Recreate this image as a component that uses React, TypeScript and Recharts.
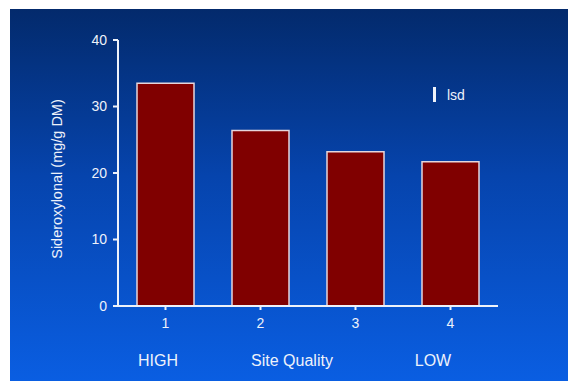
import React from 'react';
import { BarChart, Bar, XAxis, YAxis, Customized } from 'recharts';

const sites = ['1', '2', '3', '4'];
const sideroxylonal = [33.5, 26.4, 23.2, 21.7];
const yTicks = [0, 10, 20, 30, 40];

const data = sites.map((site, i) => ({ site, value: sideroxylonal[i] }));

const textColor = '#eef2fa';
const font = '"Liberation Sans", Arial, sans-serif';

// quality labels under the category numbers, plus the lsd key
const Annotations = () => (
  <g fontFamily={font} fill={textColor}>
    <text x={158} y={366} textAnchor="middle" fontSize={16}>HIGH</text>
    <text x={292} y={366} textAnchor="middle" fontSize={16}>Site Quality</text>
    <text x={433} y={366} textAnchor="middle" fontSize={16}>LOW</text>
    <rect x={433} y={87} width={3} height={15} fill={textColor} />
    <text x={447} y={100} fontSize={14}>lsd</text>
  </g>
);

const App = () => {
  return (
    <div style={{ position: 'absolute', left: 0, top: 0, width: 568, height: 381, background: '#ffffff' }}>
      <div
        style={{
          position: 'absolute',
          left: 10,
          top: 9,
          width: 558,
          height: 372,
          background: 'linear-gradient(to bottom, #032a6c 0%, #0644ad 45%, #0a5ee2 100%)',
        }}
      />
      <BarChart
        width={568}
        height={381}
        data={data}
        margin={{ top: 40, right: 70, left: 0, bottom: 0 }}
        barCategoryGap="20%"
        style={{ position: 'absolute', left: 0, top: 0 }}
      >
        <XAxis
          dataKey="site"
          height={75}
          stroke={textColor}
          strokeWidth={2}
          tickSize={4}
          tickMargin={8}
          tick={{ fill: textColor, fontSize: 14, fontFamily: font }}
        />
        <YAxis
          width={118}
          domain={[0, 40]}
          ticks={yTicks}
          stroke={textColor}
          strokeWidth={2}
          tickSize={5}
          tickMargin={6}
          tick={{ fill: textColor, fontSize: 14, fontFamily: font }}
          label={{
            value: 'Sideroxylonal (mg/g DM)',
            angle: -90,
            position: 'insideLeft',
            dx: 52,
            dy: 6,
            fill: textColor,
            fontSize: 14.5,
            fontFamily: font,
            style: { textAnchor: 'middle' },
          }}
        />
        <Bar dataKey="value" fill="#800000" stroke="#e6d6dc" strokeWidth={1.5} isAnimationActive={false} />
        <Customized component={Annotations} />
      </BarChart>
    </div>
  );
};

export default App;
